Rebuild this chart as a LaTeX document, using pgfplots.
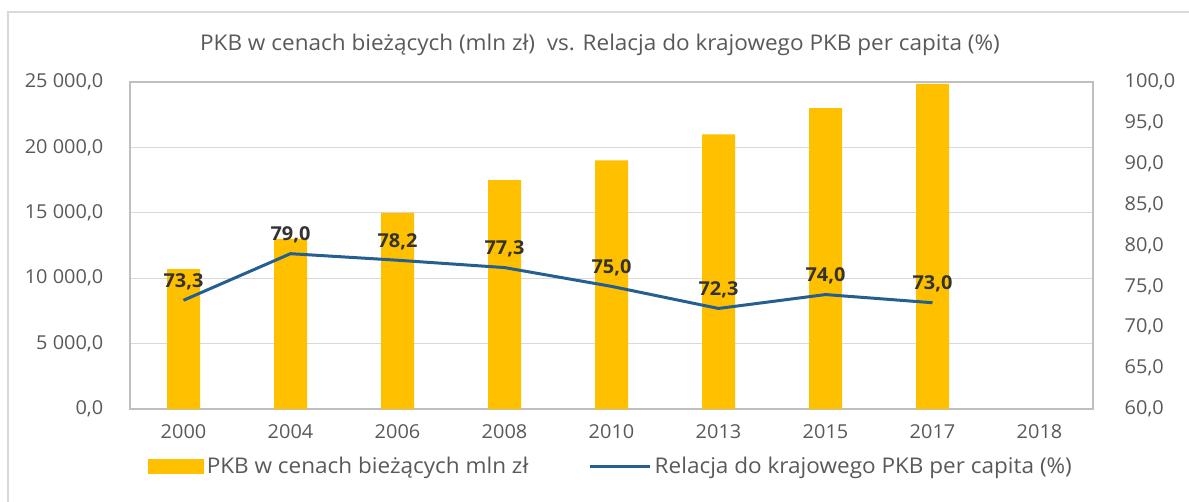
\documentclass[border=0pt]{standalone}
\usepackage{fontspec}
\setmainfont{Open Sans}[FakeStretch=1.04]
\usepackage{pgfplots}
\pgfplotsset{compat=1.18}
\usepackage{pgfplotstable}
\definecolor{barY}{HTML}{FFC000}
\definecolor{lineB}{HTML}{255E91}
\definecolor{txt}{HTML}{595959}
\definecolor{lbl}{HTML}{333333}
\definecolor{gridc}{HTML}{D9D9D9}
\definecolor{bord}{HTML}{BFBFBF}

\pgfplotstableread{
x y
0 10700
1 13000
2 15000
3 17500
4 19000
5 21000
6 23000
7 24850
}\gdp
\pgfplotstableread{
x y lab
0 73.3 {73,3}
1 79.0 {79,0}
2 78.2 {78,2}
3 77.3 {77,3}
4 75.0 {75,0}
5 72.3 {72,3}
6 74.0 {74,0}
7 73.0 {73,0}
}\rel

\newcommand\fs{\fontsize{11.5}{13.8}\selectfont}
\newcommand\fl{\fontsize{13}{15.6}\selectfont}

\begin{document}
\begin{tikzpicture}
\useasboundingbox (0,0) rectangle (713.4pt,300.6pt);
\draw[gridc, line width=0.8pt] (4.8pt,-20pt) rectangle (730pt,293.4pt);
\node[txt, font=\fl, inner sep=0pt] at (360pt, 273.6pt) {PKB w cenach bieżących (mln zł)\ \ vs. Relacja do krajowego PKB per capita (\%)};

\begin{axis}[
  at={(78pt,55.2pt)}, anchor=south west, scale only axis,
  width=577.8pt, height=196.2pt,
  xmin=-0.5, xmax=8.5, ymin=0, ymax=25000,
  scaled ticks=false,
  xtick={0,1,2,3,4,5,6,7,8},
  xticklabels={2000,2004,2006,2008,2010,2013,2015,2017,2018},
  ytick={0,5000,10000,15000,20000,25000},
  yticklabels={{0,0},{5 000,0},{10 000,0},{15 000,0},{20 000,0},{25 000,0}},
  ymajorgrids, grid style={gridc, line width=0.7pt},
  axis line style={bord, line width=0.7pt},
  major tick length=0pt,
  yticklabel style={font=\fs, text=txt, xshift=-12.5pt},
  xticklabel style={font=\fs, text=txt, yshift=-6pt},
]
\addplot[ybar, bar width=19.8pt, fill=barY, draw=none] table[x=x,y=y]{\gdp};
\end{axis}

\begin{axis}[
  at={(78pt,55.2pt)}, anchor=south west, scale only axis,
  width=577.8pt, height=196.2pt,
  xmin=-0.5, xmax=8.5, ymin=60, ymax=100,
  axis x line=none, axis y line*=right,
  ytick={60,65,70,75,80,85,90,95,100},
  yticklabels={{60,0},{65,0},{70,0},{75,0},{80,0},{85,0},{90,0},{95,0},{100,0}},
  axis line style={bord, line width=0.7pt},
  major tick length=0pt,
  yticklabel style={font=\fs, text=txt, anchor=west, xshift=15.5pt},
  legend columns=2,
  legend style={draw=none, fill=none, font=\fl, text=txt,
    at={(0.5,-0.175)}, anchor=center,
    /tikz/every even column/.append style={column sep=34pt}},
]
\addlegendimage{legend image code/.code={\fill[barY] (0pt,-4.2pt) rectangle (33pt,4.2pt);}}
\addlegendentry{PKB w cenach bieżących mln zł}
\addlegendimage{legend image code/.code={\draw[lineB, line width=1.8pt] (0pt,0pt) -- (36pt,0pt);}}
\addlegendentry{Relacja do krajowego PKB per capita (\%)}
\addplot[lineB, line width=1.8pt, forget plot,
  nodes near coords, point meta=explicit symbolic,
  every node near coord/.append style={font=\bfseries\fs, text=lbl, anchor=south, yshift=2pt}]
  table[x=x,y=y,meta=lab]{\rel};
\end{axis}
\end{tikzpicture}
\end{document}
